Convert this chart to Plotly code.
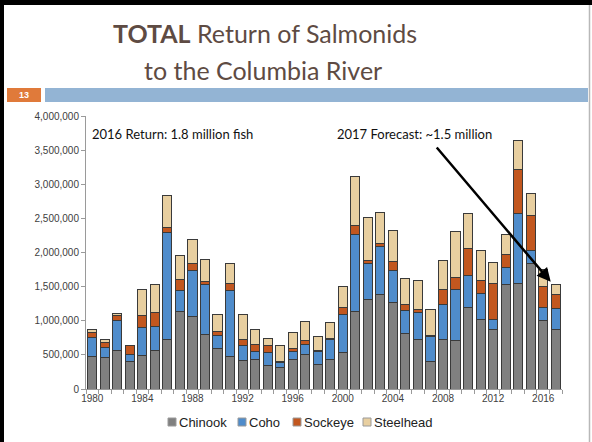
import plotly.graph_objects as go

# ---------------- data (thousands of fish) ----------------
years = list(range(1980, 2018))
chinook_k = [470, 457, 560, 400, 486, 558, 730, 1135, 1058, 800,
             590, 480, 420, 430, 346, 310, 433, 505, 360, 433,
             530, 1135, 1310, 1380, 1270, 810, 720, 410, 720, 707,
             1190, 1024, 875, 1530, 1548, 1840, 1000, 865]
coho_k = [285, 158, 445, 105, 418, 360, 1570, 315, 682, 730,
          200, 970, 220, 120, 184, 75, 110, 145, 183, 297,
          560, 1125, 530, 710, 470, 344, 400, 360, 516, 750,
          470, 376, 145, 250, 1029, 190, 190, 308]
sockeye_k = [75, 65, 65, 130, 176, 207, 65, 150, 106, 47,
             56, 90, 90, 95, 110, 15, 44, 60, 24, 15,
             100, 130, 50, 45, 135, 86, 48, 20, 221, 178,
             400, 187, 520, 190, 639, 510, 305, 212]
steelhead_k = [45, 50, 35, 5, 377, 405, 465, 360, 351, 323,
               241, 300, 360, 231, 100, 244, 240, 285, 203, 235,
               310, 720, 630, 455, 445, 385, 428, 373, 428, 675,
               510, 443, 310, 290, 419, 325, 260, 145]
series_names = ["Chinook", "Coho", "Sockeye", "Steelhead"]
x_tick_labels = [str(y) for y in range(1980, 2017, 4)]
y_tick_vals = list(range(0, 4000001, 500000))

colors = ["#808080", "#4f8ccb", "#c2571f", "#e8cfa0"]

# ---------------- layout geometry (pixels) ----------------
W, H = 592, 442
L, R, T, B = 86, 30, 116, 53
PW = W - L - R
PH = H - T - B

def px(xp):
    return (xp - L) / PW

def py(yp):
    return (H - B - yp) / PH

fig = go.Figure()
for name, vals, col in zip(series_names,
                           [chinook_k, coho_k, sockeye_k, steelhead_k],
                           colors):
    fig.add_trace(go.Bar(
        x=years, y=[v * 1000 for v in vals], name=name, showlegend=False,
        marker=dict(color=col, line=dict(color="#3a3a3a", width=1)),
    ))

shapes = [
    # slide frame
    dict(type="rect", xref="paper", yref="paper", x0=px(0), x1=px(4), y0=py(442), y1=py(0),
         fillcolor="black", line=dict(width=0), layer="above"),
    dict(type="rect", xref="paper", yref="paper", x0=px(0), x1=px(592), y0=py(5), y1=py(0),
         fillcolor="black", line=dict(width=0), layer="above"),
    dict(type="line", xref="paper", yref="paper", x0=px(589.5), x1=px(589.5), y0=py(442), y1=py(5),
         line=dict(color="#b8b8b8", width=1.5)),
    # slide number box and header bar
    dict(type="rect", xref="paper", yref="paper", x0=px(7), x1=px(41), y0=py(102), y1=py(88),
         fillcolor="#e07a3a", line=dict(width=0)),
    dict(type="rect", xref="paper", yref="paper", x0=px(45), x1=px(588), y0=py(102), y1=py(88),
         fillcolor="#93b4d4", line=dict(width=0)),
]

annotations = [
    dict(text="<b>TOTAL</b> Return of Salmonids", xref="paper", yref="paper",
         x=px(265), y=py(33), xanchor="center", yanchor="middle", showarrow=False,
         font=dict(family="Lato", size=25, color="#5e4b43")),
    dict(text="to the Columbia River", xref="paper", yref="paper",
         x=px(263), y=py(70), xanchor="center", yanchor="middle", showarrow=False,
         font=dict(family="Lato", size=25, color="#5e4b43")),
    dict(text="<b>13</b>", xref="paper", yref="paper",
         x=px(24), y=py(95), xanchor="center", yanchor="middle", showarrow=False,
         font=dict(family="Liberation Sans", size=9, color="white")),
    dict(text="2016 Return: 1.8 million fish", xref="paper", yref="paper",
         x=px(90), y=py(134), xanchor="left", yanchor="middle", showarrow=False,
         font=dict(family="Lato", size=13, color="#111111")),
    dict(text="2017 Forecast: ~1.5 million", xref="paper", yref="paper",
         x=px(335), y=py(134), xanchor="left", yanchor="middle", showarrow=False,
         font=dict(family="Lato", size=13, color="#111111")),
    dict(text="", x=2016.6, y=1570000, xref="x", yref="y",
         ax=2007.4, ay=3560000, axref="x", ayref="y",
         showarrow=True, arrowhead=2, arrowsize=1.1, arrowwidth=2.5, arrowcolor="black"),
]

# custom legend (small squares + text), laid out like the original
legend_left_px = [168, 238, 293, 363]
for name, col, lx in zip(series_names, colors, legend_left_px):
    shapes.append(dict(type="rect", xref="paper", yref="paper",
                       x0=px(lx), x1=px(lx + 8), y0=py(426), y1=py(418),
                       fillcolor=col, line=dict(color="#9a9a9a", width=1)))
    annotations.append(dict(text=name, xref="paper", yref="paper",
                            x=px(lx + 9), y=py(422), xanchor="left", yanchor="middle",
                            showarrow=False,
                            font=dict(family="Liberation Sans", size=13, color="#222222")))

fig.update_layout(
    width=W, height=H,
    margin=dict(l=L, r=R, t=T, b=B, pad=0),
    paper_bgcolor="white", plot_bgcolor="white",
    barmode="stack", bargap=0.27,
    font=dict(family="Liberation Sans", size=10, color="#404040"),
    showlegend=False,
    shapes=shapes,
    annotations=annotations,
    xaxis=dict(range=[1979.5, 2017.5], tickmode="array", tickvals=[int(t) for t in x_tick_labels],
               ticktext=x_tick_labels, ticks="", showline=True, linecolor="#9a9a9a",
               linewidth=1, showgrid=False, zeroline=False,
               tickfont=dict(family="Liberation Sans", size=10, color="#404040"),
               minor=dict(ticks="outside", tick0=1979.5, dtick=1, ticklen=4,
                          tickcolor="#9a9a9a", showgrid=False)),
    yaxis=dict(range=[0, 4000000], tickmode="array", tickvals=y_tick_vals,
               tickformat=",d", ticks="outside", ticklen=4, tickcolor="#9a9a9a",
               showline=True, linecolor="#9a9a9a", linewidth=1, showgrid=False,
               zeroline=False,
               tickfont=dict(family="Liberation Sans", size=10, color="#404040")),
)

fig.write_html("out.html")
